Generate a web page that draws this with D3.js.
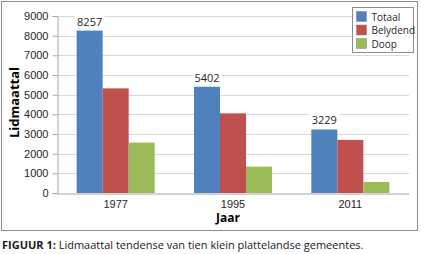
<!DOCTYPE html>
<html>
<head>
<meta charset="utf-8">
<script src="https://cdn.jsdelivr.net/npm/d3@7"></script>
<style>
  body { margin: 0; background: #fff; }
  svg { display: block; font-family: "Open Sans", "Liberation Sans", sans-serif; }
</style>
</head>
<body>
<svg id="chart" width="421" height="254"></svg>
<script>
// data
const jare = ["1977", "1995", "2011"];
const reekse = ["Totaal", "Belydend", "Doop"];
const totaal = [8257, 5402, 3229];
const belydend = [5320, 4050, 2700];
const doop = [2560, 1340, 560];
const yTicks = [0, 1000, 2000, 3000, 4000, 5000, 6000, 7000, 8000, 9000];
const kleure = ["#4f81bd", "#c0504d", "#9bbb59"];

const waardes = [totaal, belydend, doop];

const svg = d3.select('#chart');

// buitenste raam
svg.append('rect')
    .attr('x', 1.5).attr('y', 1.5)
    .attr('width', 416).attr('height', 229)
    .attr('fill', '#fff').attr('stroke', '#8c8c8c').attr('stroke-width', 1);

const margin = {left: 57, right: 12, top: 16, bottom: 61};
const width = 421 - margin.left - margin.right;
const height = 254 - margin.top - margin.bottom;

const g = svg.append('g').attr('transform', `translate(${margin.left},${margin.top})`);

const x0 = d3.scaleBand().domain(jare).range([0, width]).paddingInner(0.335).paddingOuter(0.1675);
const x1 = d3.scaleBand().domain(reekse).range([0, x0.bandwidth()]);
const y = d3.scaleLinear().domain([0, 9000]).range([height, 0]);

// rooster
g.selectAll('.grid')
    .data(yTicks.slice(1))
    .enter().append('line')
    .attr('x1', 0).attr('x2', width)
    .attr('y1', d => Math.round(y(d)) + 0.5).attr('y2', d => Math.round(y(d)) + 0.5)
    .attr('stroke', '#d9d9d9').attr('stroke-width', 1);

// y-as
const yAxis = g.append('g')
    .attr('transform', 'translate(0.5,0)')
    .call(d3.axisLeft(y).tickValues(yTicks).tickSize(5).tickPadding(4).tickFormat(d3.format('d')));
yAxis.select('.domain').attr('stroke', '#a6a6a6');
yAxis.selectAll('.tick line').attr('stroke', '#a6a6a6');
yAxis.selectAll('text').attr('fill', '#262626').style('font-size', '11px');

// stawe
const groepe = g.selectAll('.groep')
    .data(jare)
    .enter().append('g')
    .attr('transform', d => `translate(${x0(d)},0)`);

groepe.selectAll('rect')
    .data((d, i) => reekse.map((r, j) => ({reeks: r, waarde: waardes[j][i], kleur: kleure[j]})))
    .enter().append('rect')
    .attr('x', d => x1(d.reeks))
    .attr('y', d => y(d.waarde))
    .attr('width', x1.bandwidth())
    .attr('height', d => height - y(d.waarde))
    .attr('fill', d => d.kleur);

// x-as
const xAxis = g.append('g')
    .attr('transform', `translate(0,${Math.round(height) + 0.5})`)
    .call(d3.axisBottom(x0).tickSize(0).tickPadding(7));
xAxis.select('.domain').attr('stroke', '#a6a6a6');
xAxis.selectAll('text').attr('fill', '#262626').style('font-size', '11px');

// etikette bo Totaal
const etikette = g.selectAll('.etiket')
    .data(jare)
    .enter().append('g')
    .attr('transform', (d, i) => `translate(${x0(d) + x1('Totaal') + x1.bandwidth() / 2},${y(totaal[i]) - 5})`);
etikette.append('rect')
    .attr('x', -15).attr('y', -12).attr('width', 30).attr('height', 14)
    .attr('fill', '#fff');
etikette.append('text')
    .attr('text-anchor', 'middle')
    .attr('fill', '#262626')
    .style('font-size', '11px')
    .text((d, i) => totaal[i]);

// as titels
svg.append('text')
    .attr('transform', `translate(19,${margin.top + height / 2 - 2}) rotate(-90)`)
    .attr('text-anchor', 'middle')
    .style('font-size', '13px').style('font-weight', 'bold')
    .attr('fill', '#000')
    .text('Lidmaattal');

svg.append('text')
    .attr('x', 228).attr('y', 222)
    .attr('text-anchor', 'middle')
    .style('font-size', '12px').style('font-weight', 'bold')
    .attr('fill', '#000')
    .text('Jaar');

// legende
const leg = svg.append('g').attr('transform', 'translate(352.5,7.5)');
leg.append('rect')
    .attr('width', 61).attr('height', 45)
    .attr('fill', '#fff').attr('stroke', '#8c8c8c');
const items = leg.selectAll('.item')
    .data(reekse)
    .enter().append('g')
    .attr('transform', (d, i) => `translate(4,${4 + i * 13.5})`);
items.append('rect')
    .attr('width', 10).attr('height', 10)
    .attr('fill', (d, i) => kleure[i])
    .attr('stroke', '#7f7f7f').attr('stroke-width', 0.5);
items.append('text')
    .attr('x', 15).attr('y', 9)
    .attr('fill', '#262626')
    .style('font-size', '10px')
    .text(d => d);

// onderskrif
const cap = svg.append('text')
    .attr('x', 2).attr('y', 249)
    .style('font-size', '11px')
    .attr('fill', '#1a1a1a');
cap.append('tspan').style('font-weight', 'bold').text('FIGUUR 1:');
cap.append('tspan').text(' Lidmaattal tendense van tien klein plattelandse gemeentes.');
</script>
</body>
</html>
